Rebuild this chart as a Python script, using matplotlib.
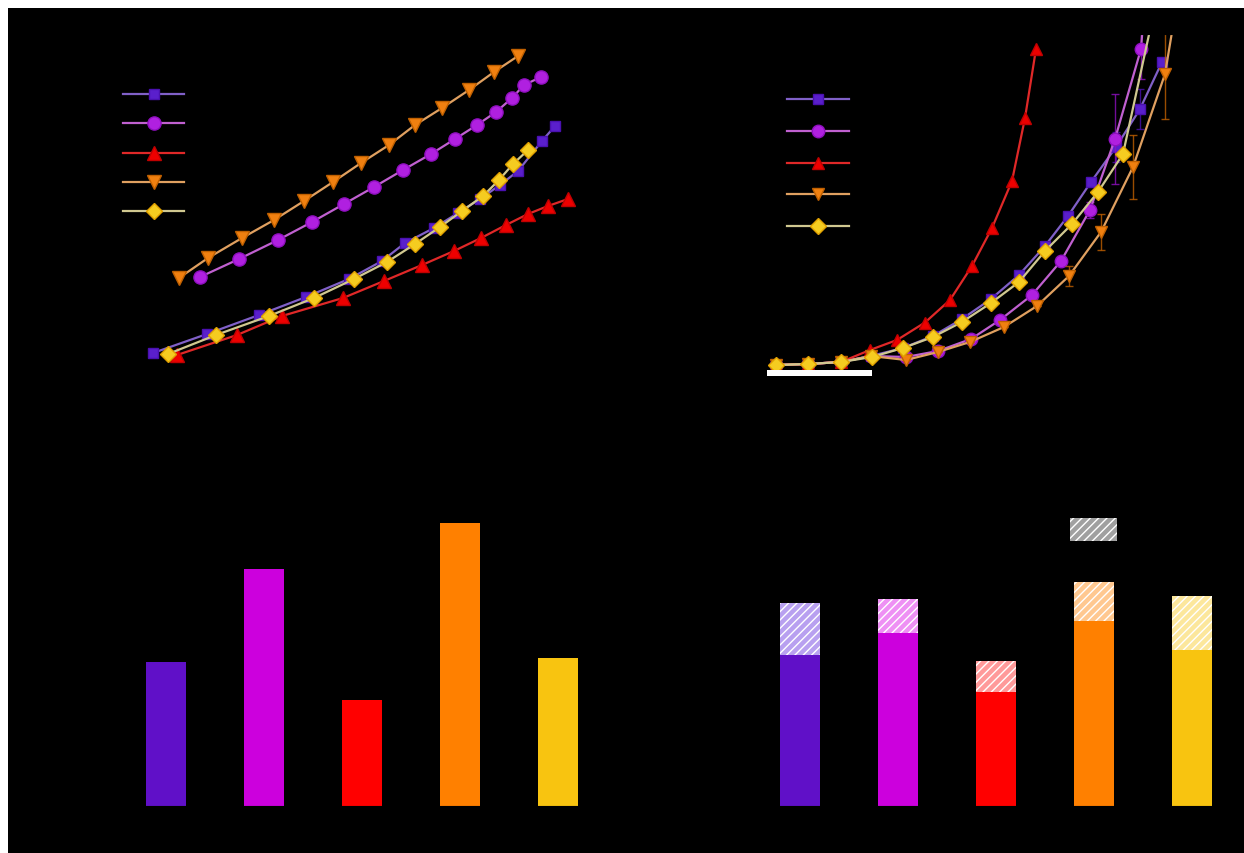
import matplotlib.pyplot as plt
from matplotlib.patches import Rectangle, Patch
import numpy as np

# names of the five samples (text is black on black in the reference)
samples = ['Sample 1', 'Sample 2', 'Sample 3', 'Sample 4', 'Sample 5']

# panel a: curves
a_sq_x = [5.3, 10.7, 15.9, 20.6, 24.9, 28.2, 30.5, 33.4, 35.8, 38.0, 40.0, 41.8, 44.2, 45.5]
a_sq_y = [3.6, 5.5, 7.4, 9.2, 11.0, 12.8, 14.6, 16.1, 17.6, 19.0, 20.4, 21.8, 24.8, 26.3]
a_ci_x = [10.0, 13.9, 17.8, 21.2, 24.4, 27.4, 30.3, 33.1, 35.5, 37.7, 39.6, 41.2, 42.4, 44.1]
a_ci_y = [11.2, 13.0, 14.9, 16.7, 18.5, 20.2, 21.9, 23.5, 25.0, 26.4, 27.7, 29.1, 30.4, 31.2]
a_up_x = [7.7, 13.7, 18.2, 24.3, 28.4, 32.2, 35.4, 38.1, 40.6, 42.8, 44.8, 46.8]
a_up_y = [3.4, 5.4, 7.3, 9.1, 10.8, 12.4, 13.8, 15.1, 16.4, 17.5, 18.3, 19.0]
a_dn_x = [7.9, 10.8, 14.2, 17.4, 20.4, 23.3, 26.1, 28.9, 31.5, 34.2, 36.9, 39.4, 41.8]
a_dn_y = [11.1, 13.1, 15.1, 16.9, 18.8, 20.7, 22.6, 24.4, 26.4, 28.1, 29.9, 31.7, 33.3]
a_di_x = [6.8, 11.6, 16.9, 21.4, 25.4, 28.7, 31.5, 34.0, 36.2, 38.3, 39.9, 41.3, 42.8]
a_di_y = [3.5, 5.4, 7.3, 9.1, 11.0, 12.7, 14.5, 16.2, 17.8, 19.3, 20.9, 22.5, 23.9]

# panel b: curves with error bars
b_sq_x = [5.6, 8.8, 12.1, 15.1, 18.3, 21.3, 24.2, 27.1, 29.9, 32.5, 34.8, 37.1, 39.6, 42.0, 44.2]
b_sq_y = [1.9, 2.0, 2.2, 2.8, 3.6, 4.8, 6.5, 8.5, 10.9, 13.8, 16.8, 20.2, 23.7, 27.5, 32.2]
b_sq_e = [0, 0, 0, 0, 0, 0, 0, 0, 0, 0, 0, 0, 1.5, 2.0, 0]
b_ci_x = [5.6, 8.8, 12.1, 15.1, 18.6, 21.8, 25.1, 28.0, 31.2, 34.1, 37.0, 39.5, 42.1, 42.6]
b_ci_y = [1.9, 2.0, 2.2, 2.8, 2.7, 3.3, 4.5, 6.4, 8.9, 12.3, 17.4, 24.5, 33.5, 40.0]
b_ci_e = [0, 0, 0, 0, 0, 0, 0, 0, 0, 0, 0.8, 4.5, 3.0, 0]
b_up_x = [5.6, 8.8, 12.1, 15.0, 17.7, 20.5, 23.0, 25.2, 27.2, 29.2, 30.5, 31.6]
b_up_y = [1.9, 2.0, 2.2, 3.4, 4.4, 6.15, 8.4, 11.8, 15.6, 20.3, 26.6, 33.5]
b_dn_x = [5.6, 8.8, 12.1, 15.1, 18.6, 21.8, 25.0, 28.4, 31.7, 34.9, 38.1, 41.3, 44.5, 46.0]
b_dn_y = [1.9, 2.0, 2.2, 2.8, 2.4, 3.2, 4.2, 5.7, 7.8, 10.8, 15.2, 21.7, 31.0, 40.0]
b_dn_e = [0, 0, 0, 0, 0, 0, 0, 0, 0, 1.0, 1.8, 3.2, 4.5, 0]
b_di_x = [5.6, 8.8, 12.1, 15.2, 18.3, 21.3, 24.2, 27.1, 29.9, 32.5, 35.2, 37.8, 40.3, 44.0]
b_di_y = [1.9, 2.0, 2.2, 2.7, 3.6, 4.7, 6.2, 8.1, 10.2, 13.3, 16.0, 19.2, 23.0, 40.0]

# panel c: single bars
c_vals = [14.4, 23.7, 10.6, 28.3, 14.8]

# panel d: stacked bars (solid + hatched part)
d_solid = [15.1, 17.3, 11.4, 18.5, 15.6]
d_hatch = [5.2, 3.4, 3.1, 3.9, 5.4]

bar_colors = ['#6010C8', '#CC00DD', '#FF0000', '#FF8000', '#F8C410']
tint_colors = ['#B8A0F0', '#EE90F4', '#FF9A9A', '#FFC890', '#FCE79C']
mk_colors = ['#5A1FCC', '#B020E0', '#EE0000', '#F08010', '#F5CC20']
mk_edges = ['#4A10B0', '#9010C0', '#C00000', '#C06000', '#E0A000']
ln_colors = ['#8060C8', '#C060D0', '#E02828', '#E0A060', '#D0C890']
markers = ['s', 'o', '^', 'v', 'D']
msizes = [7.5, 9.5, 9.5, 9.5, 8.5]

plt.rcParams['hatch.linewidth'] = 1.0
plt.rcParams['font.size'] = 13

fig = plt.figure(figsize=(12.44, 8.54), dpi=100, facecolor='white')
fig.patches.append(Rectangle((8 / 1244, 0), 1 - 8 / 1244, 1 - 9 / 854,
                             transform=fig.transFigure, facecolor='black',
                             edgecolor='none', zorder=-10))


def style(ax):
    ax.set_facecolor('none')
    for s in ax.spines.values():
        s.set_color('black')
    ax.tick_params(colors='black', labelcolor='black')
    ax.xaxis.label.set_color('black')
    ax.yaxis.label.set_color('black')


def black_legend(leg):
    for t in leg.get_texts():
        t.set_color('black')
    leg.set_zorder(1)


# ---- panel a
ax1 = fig.add_axes([100 / 1244, 1 - 390 / 854, 500 / 1244, 360 / 854])
style(ax1)
a_xs = [a_sq_x, a_ci_x, a_up_x, a_dn_x, a_di_x]
a_ys = [a_sq_y, a_ci_y, a_up_y, a_dn_y, a_di_y]
for i in range(5):
    ax1.plot(a_xs[i], a_ys[i], color=ln_colors[i], lw=1.6, marker=markers[i],
             ms=msizes[i], mfc=mk_colors[i], mec=mk_edges[i], mew=1.0,
             label=samples[i])
ax1.set_xlim(0, 50)
ax1.set_ylim(0, 36)
ax1.set_xlabel('x', color='black')
ax1.set_ylabel('y', color='black')
black_legend(ax1.legend(loc='upper left', bbox_to_anchor=(0.046, 0.84), frameon=False,
                        borderpad=0, borderaxespad=0, handlelength=3.4,
                        labelspacing=0.62, fontsize=13))

# ---- panel b
ax2 = fig.add_axes([720 / 1244, 1 - 385 / 854, 480 / 1244, 350 / 854])
style(ax2)
b_xs = [b_sq_x, b_ci_x, b_up_x, b_dn_x, b_di_x]
b_ys = [b_sq_y, b_ci_y, b_up_y, b_dn_y, b_di_y]
b_es = [b_sq_e, b_ci_e, None, b_dn_e, None]
handles = []
for i in range(5):
    if b_es[i] is not None:
        ax2.errorbar(b_xs[i], b_ys[i], yerr=b_es[i], fmt='none', ecolor=mk_edges[i],
                     elinewidth=1.0, capsize=3, alpha=0.8)
    h, = ax2.plot(b_xs[i], b_ys[i], color=ln_colors[i], lw=1.6, marker=markers[i],
                  ms=msizes[i] - 0.5, mfc=mk_colors[i], mec=mk_edges[i], mew=1.0,
                  label=samples[i])
    handles.append(h)
ax2.set_xlim(0, 48)
ax2.set_ylim(0, 35)
ax2.set_xlabel('x', color='black')
ax2.set_ylabel('y', color='black')
black_legend(ax2.legend(handles=handles, loc='upper left', bbox_to_anchor=(0.14, 0.835),
                        frameon=False, borderpad=0, borderaxespad=0, handlelength=3.4,
                        labelspacing=0.75, fontsize=13))
ax2.add_patch(Rectangle((0.0973, 0.0237), 0.22, 0.0163, transform=ax2.transAxes,
                        facecolor='white', edgecolor='none', clip_on=False, zorder=5))

# ---- panel c
pos = np.arange(5)
ax3 = fig.add_axes([97.4 / 1244, 1 - 806.7 / 854, 509.6 / 1244, 350 / 854])
style(ax3)
ax3.bar(pos, c_vals, width=0.41, color=bar_colors)
ax3.set_xlim(-0.7, 4.5)
ax3.set_ylim(0, 35)
ax3.set_xticks(pos)
ax3.set_xticklabels(samples, color='black')
ax3.set_ylabel('y', color='black')

# ---- panel d
ax4 = fig.add_axes([731.7 / 1244, 1 - 806.7 / 854, 509.6 / 1244, 350 / 854])
style(ax4)
ax4.bar(pos, d_solid, width=0.41, color=bar_colors)
ax4.bar(pos, d_hatch, bottom=d_solid, width=0.41, color=tint_colors,
        edgecolor='white', linewidth=0, hatch='////')
ax4.set_xlim(-0.7, 4.5)
ax4.set_ylim(0, 35)
ax4.set_xticks(pos)
ax4.set_xticklabels(samples, color='black')
ax4.set_ylabel('y', color='black')
black_legend(ax4.legend(handles=[Patch(facecolor='#A0A0A0', edgecolor='white', lw=0,
                                       hatch='////', label='extra')],
                        loc='upper left', bbox_to_anchor=(0.663, 0.823), frameon=False,
                        borderpad=0, borderaxespad=0, handlelength=2.46,
                        handleheight=1.45, fontsize=14))

fig.savefig('out.png', dpi=100, facecolor=fig.get_facecolor())
